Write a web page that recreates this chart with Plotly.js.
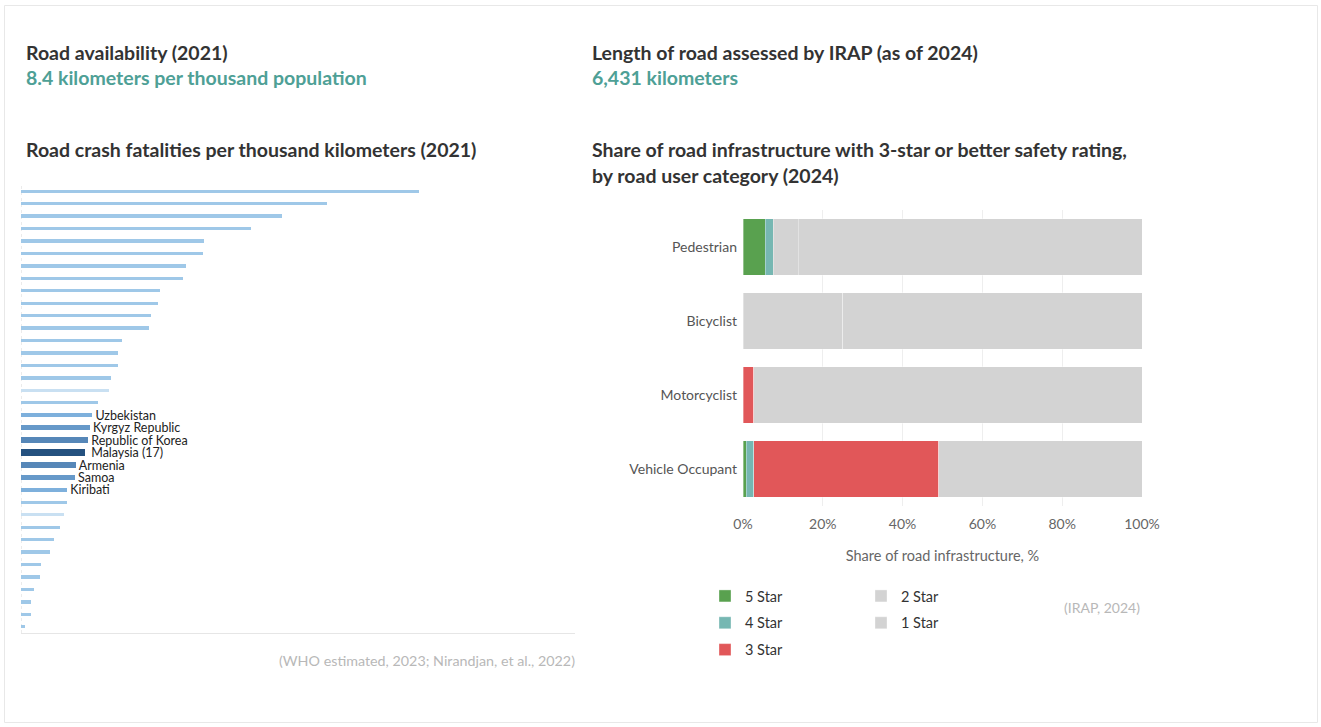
<!DOCTYPE html>
<html>
<head>
<meta charset="utf-8">
<script src="https://cdn.plot.ly/plotly-3.0.1.min.js"></script>
<style>
  html, body { margin: 0; padding: 0; background: #ffffff; }
  #chart { width: 1321px; height: 727px; }
</style>
</head>
<body>
<div id="chart"></div>
<script>
// ---------- Left chart: road crash fatalities per thousand km (2021) ----------
const fatalityValues = [105.7, 81.3, 69.3, 61.1, 48.6, 48.3, 43.8, 43.0, 36.9, 36.4, 34.5, 34.0,
  26.8, 25.8, 25.8, 23.9, 23.4, 20.5, 18.9, 18.3, 17.8, 17.0, 14.6, 14.3, 12.2, 12.2, 11.4,
  10.4, 8.8, 7.7, 5.3, 5.0, 3.5, 2.7, 2.7, 1.1];
const fatalityLabels = ["", "", "", "", "", "", "", "", "", "", "", "", "", "", "", "", "", "",
  "Uzbekistan", "Kyrgyz Republic", "Republic of Korea", "Malaysia (17)", "Armenia", "Samoa", "Kiribati",
  "", "", "", "", "", "", "", "", "", "", ""];
const fatalityRank = fatalityValues.map((v, i) => i);

// ---------- Right chart: share of road infrastructure by star rating (2024) ----------
const userCategories = ["Pedestrian", "Bicyclist", "Motorcyclist", "Vehicle Occupant"];
const star5 = [5.6, 0, 0, 0.8];
const star4 = [2.0, 0, 0, 1.9];
const star3 = [0, 0, 2.7, 46.3];
const star2 = [6.3, 25.0, 0, 0];
const star1 = [86.1, 75.0, 97.3, 51.0];
const starNames = ["5 Star", "4 Star", "3 Star", "2 Star", "1 Star"];
const xTickVals = [0, 20, 40, 60, 80, 100];
const xTickText = xTickVals.map(v => v + "%");

// ---------- styling ----------
const W = 1321, H = 727;
const px = x => x / W;
const py = y => (H - y) / H;
const FONT = "Lato, 'Open Sans', sans-serif";

const lightBlue = "#9fc8e8";
const paleBlue = "#c9e0f2";
const barColors = fatalityLabels.map((l, i) => {
  if (l === "Malaysia (17)") return "#24517f";
  if (l === "Republic of Korea" || l === "Armenia") return "#5687b8";
  if (l === "Kyrgyz Republic" || l === "Samoa") return "#6699c9";
  if (l === "Uzbekistan" || l === "Kiribati") return "#7eb0dc";
  if (i === 16 || i === 26) return paleBlue;
  return lightBlue;
});
const barWidths = fatalityLabels.map(l => {
  if (l === "Malaysia (17)") return 0.6;
  if (l === "Republic of Korea" || l === "Armenia") return 0.44;
  if (l === "Kyrgyz Republic" || l === "Samoa") return 0.38;
  if (l === "Uzbekistan" || l === "Kiribati") return 0.32;
  return 0.27;
});

const leftTrace = {
  type: "bar", orientation: "h",
  x: fatalityValues, y: fatalityRank,
  xaxis: "x", yaxis: "y",
  width: barWidths,
  marker: { color: barColors },
  text: fatalityLabels,
  texttemplate: "\u00a0%{text}",
  textposition: "outside",
  constraintext: "none",
  cliponaxis: false,
  textfont: { family: FONT, size: 12.5, color: "#222222" },
  showlegend: false,
  hoverinfo: "skip"
};

const starColors = ["#59a14f", "#76b7b2", "#e15759", "#d3d3d3", "#d3d3d3"];
const starSeries = [star5, star4, star3, star2, star1];
const rightTraces = starSeries.map((vals, k) => ({
  type: "bar", orientation: "h",
  x: vals, y: userCategories,
  name: starNames[k],
  xaxis: "x2", yaxis: "y2",
  marker: { color: starColors[k], line: { color: "rgba(255,255,255,0.35)", width: 1 } },
  legend: k < 3 ? "legend" : "legend2",
  legendgroup: starNames[k],
  hoverinfo: "skip"
}));

const titleFont = { family: FONT, size: 19.5, color: "#333333", weight: 700 };
const tealFont = { family: FONT, size: 19.5, color: "#4ea096", weight: 700 };
const srcFont = { family: FONT, size: 14.3, color: "#b8b8b8" };

function ann(text, x, y, font, xanchor) {
  return { text, x: px(x), y: py(y), xref: "paper", yref: "paper",
           xanchor: xanchor || "left", yanchor: "middle", showarrow: false, font };
}

const annotations = [
  ann("Road availability (2021)", 24, 53, titleFont),
  ann("8.4 kilometers per thousand population", 24, 77, tealFont),
  ann("Length of road assessed by IRAP (as of 2024)", 590, 53, titleFont),
  ann("6,431 kilometers", 590, 77, tealFont),
  ann("Road crash fatalities per thousand kilometers (2021)", 24, 150, titleFont),
  ann("Share of road infrastructure with 3-star or better safety rating,", 590, 150, titleFont),
  ann("by road user category (2024)", 590, 175, titleFont),
  ann("(WHO estimated, 2023; Nirandjan, et al., 2022)", 577, 660, srcFont, "right"),
  ann("(IRAP, 2024)", 1142, 607, { family: FONT, size: 14, color: "#b8b8b8" }, "right")
];

const layout = {
  width: W, height: H,
  margin: { l: 0, r: 0, t: 0, b: 0 },
  paper_bgcolor: "#ffffff", plot_bgcolor: "rgba(0,0,0,0)",
  font: { family: FONT, size: 14, color: "#555555" },
  barmode: "stack",
  bargap: 0.243,
  xaxis: {
    domain: [px(21), px(575)], range: [0, 147.1],
    showgrid: false, zeroline: false, showticklabels: false,
    showline: true, linecolor: "#e6e6e6", linewidth: 1, fixedrange: true
  },
  yaxis: {
    domain: [py(633), py(185)], range: [35.5, -0.5],
    showgrid: false, zeroline: false, showticklabels: false, showline: false, fixedrange: true
  },
  xaxis2: {
    domain: [px(743), px(1142)], range: [0, 100], anchor: "y2",
    tickmode: "array", tickvals: xTickVals, ticktext: xTickText,
    showgrid: true, gridcolor: "#eeeeee", gridwidth: 1, zeroline: false,
    showline: false, ticks: "", ticklabelstandoff: 8,
    tickfont: { family: FONT, size: 14, color: "#666666" },
    title: { text: "Share of road infrastructure, %", font: { family: FONT, size: 14.5, color: "#666666" }, standoff: 19 },
    fixedrange: true
  },
  yaxis2: {
    domain: [py(506), py(210)], anchor: "x2",
    autorange: "reversed", type: "category",
    showgrid: false, zeroline: false, showline: false, ticks: "",
    ticklabelstandoff: 5,
    tickfont: { family: FONT, size: 14, color: "#555555" },
    fixedrange: true
  },
  legend: {
    x: px(705), xanchor: "left", y: py(580), yanchor: "top",
    orientation: "v", traceorder: "grouped", tracegroupgap: 5,
    font: { family: FONT, size: 14.5, color: "#333333" }, bgcolor: "rgba(0,0,0,0)", itemclick: false, itemdoubleclick: false
  },
  legend2: {
    x: px(861), xanchor: "left", y: py(580), yanchor: "top",
    orientation: "v", traceorder: "grouped", tracegroupgap: 5,
    font: { family: FONT, size: 14.5, color: "#333333" }, bgcolor: "rgba(0,0,0,0)", itemclick: false, itemdoubleclick: false
  },
  annotations: annotations,
  shapes: [
    { type: "rect", xref: "paper", yref: "paper", x0: px(4.5), x1: px(1317.5), y0: py(722.5), y1: py(5.5),
      line: { color: "#e8e8e8", width: 1 }, fillcolor: "rgba(0,0,0,0)", layer: "below" },
    { type: "line", xref: "x", yref: "paper", x0: 0, x1: 0, y0: py(633), y1: py(185),
      line: { color: "#d8d8d8", width: 1, dash: "dot" }, layer: "below" }
  ],
  showlegend: true
};

Plotly.newPlot("chart", [leftTrace].concat(rightTraces), layout, { displayModeBar: false, responsive: false });
</script>
</body>
</html>
